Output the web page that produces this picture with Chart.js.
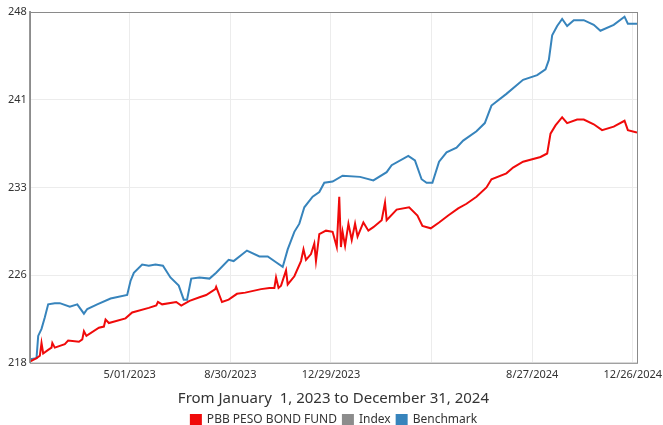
<!DOCTYPE html>
<html>
<head>
<meta charset="utf-8">
<title>PBB PESO BOND FUND</title>
<script src="https://cdn.jsdelivr.net/npm/chart.js@4.4.1/dist/chart.umd.min.js"></script>
<style>
    html, body { margin: 0; padding: 0; background: #fff; }
    #wrap { width: 663px; height: 425px; }
</style>
</head>
<body>
<div id="wrap"><canvas id="perf"></canvas></div>
<script>
//--- Data (x = days since January 1, 2023)
var fundName = 'PBB PESO BOND FUND';
var seriesNames = [fundName, 'Index', 'Benchmark'];

var fundDays = [0, 8, 12, 14, 16, 22, 26, 27, 30, 42, 46, 59, 63, 65, 68, 83, 89, 91, 95, 115,
    123, 143, 152, 154, 159, 176, 182, 192, 204, 212, 223, 224, 231, 239, 249, 259, 278, 288, 294, 296,
    299, 302, 308, 310, 318, 326, 329, 332, 338, 342, 344, 348, 356, 364, 369, 372, 374, 376, 379, 383,
    387, 391, 394, 401, 407, 413, 423, 427, 429, 441, 456, 466, 472, 482, 492, 503, 515, 525, 537, 549,
    555, 573, 581, 593, 614, 622, 626, 632, 640, 646, 658, 666, 678, 688, 702, 715, 719, 730];
var fundValues = [218.1, 218.4, 218.6, 219.7, 218.8, 219.1, 219.3, 219.7, 219.3, 219.6, 219.9, 219.8, 220.0, 220.7, 220.3, 221.0, 221.1, 221.7, 221.4, 221.8,
    222.3, 222.7, 222.9, 223.2, 223.0, 223.2, 222.9, 223.3, 223.6, 223.8, 224.3, 224.5, 223.2, 223.4, 223.9, 224.0, 224.3, 224.4, 224.4, 225.3,
    224.4, 224.6, 225.9, 224.7, 225.4, 226.7, 227.7, 226.8, 227.3, 228.2, 226.7, 229.0, 229.3, 229.2, 227.9, 232.2, 227.9, 229.2, 228.0, 229.9,
    228.5, 229.9, 228.8, 230.0, 229.3, 229.6, 230.2, 231.7, 230.2, 231.1, 231.3, 230.6, 229.7, 229.5, 230.0, 230.6, 231.2, 231.6, 232.2, 233.0,
    233.7, 234.2, 234.7, 235.2, 235.6, 235.9, 237.6, 238.3, 239.0, 238.5, 238.8, 238.8, 238.4, 237.9, 238.2, 238.7, 237.9, 237.7];

var benchDays = [0, 8, 10, 14, 18, 22, 30, 36, 48, 57, 65, 69, 81, 97, 117, 121, 125, 135, 143, 151,
    160, 169, 179, 185, 189, 194, 204, 216, 224, 239, 245, 261, 276, 286, 296, 304, 310, 318, 324, 330,
    340, 348, 354, 364, 376, 397, 413, 429, 435, 455, 463, 471, 477, 484, 492, 501, 513, 521, 537, 547,
    555, 573, 593, 610, 620, 624, 628, 634, 640, 646, 654, 666, 678, 686, 702, 715, 719, 730];
var benchValues = [218.3, 218.4, 220.3, 220.9, 221.9, 223.0, 223.1, 223.1, 222.8, 223.0, 222.2, 222.6, 223.0, 223.5, 223.8, 225.0, 225.7, 226.4, 226.3, 226.4,
    226.3, 225.3, 224.6, 223.4, 223.4, 225.2, 225.3, 225.2, 225.7, 226.8, 226.7, 227.6, 227.1, 227.1, 226.6, 226.2, 227.7, 229.2, 229.9, 231.3,
    232.2, 232.6, 233.4, 233.5, 234.0, 233.9, 233.6, 234.3, 234.9, 235.7, 235.3, 233.7, 233.4, 233.4, 235.2, 236.0, 236.4, 237.0, 237.8, 238.5,
    240.0, 241.0, 242.2, 242.6, 243.1, 243.9, 246.0, 246.8, 247.4, 246.8, 247.3, 247.3, 246.9, 246.4, 246.9, 247.6, 247.0, 247.0];

var tickDays = [120, 241, 362, 483, 604, 725];
var tickLabels = ['5/01/2023', '8/30/2023', '12/29/2023', '', '8/27/2024', '12/26/2024'];
var yMin = 218, yMax = 248, yStep = 7.5;
var periodText = 'From January  1, 2023 to December 31, 2024';

//--- Build points
function toPoints(days, values) {
    var pts = [];
    for (var i = 0; i < days.length; i++) {
        pts.push({ x: days[i], y: values[i] });
    }
    return pts;
}

// box round the plot area
var frame = {
    id: 'frame',
    afterDraw: function (chart) {
        var a = chart.chartArea, ctx = chart.ctx;
        ctx.save();
        ctx.strokeStyle = '#8a8a8a';
        ctx.lineWidth = 1;
        ctx.strokeRect(a.left + 0.5, a.top + 0.5, a.right - a.left, a.bottom - a.top);
        ctx.restore();
    }
};

Chart.defaults.font.family = "'Noto Sans', 'Open Sans', sans-serif";
Chart.defaults.color = '#333';

var ctx = document.getElementById('perf');
var myChart = new Chart(ctx, {
    type: 'line',
    data: {
        datasets: [{
            label: seriesNames[0],
            data: toPoints(fundDays, fundValues),
            borderColor: '#f00a0a',
            backgroundColor: '#f00a0a',
            borderWidth: 2,
            pointRadius: 0,
            tension: 0
        }, {
            label: seriesNames[1],
            data: [],
            borderColor: '#8c8c8c',
            backgroundColor: '#8c8c8c',
            borderWidth: 2,
            pointRadius: 0
        }, {
            label: seriesNames[2],
            data: toPoints(benchDays, benchValues),
            borderColor: '#3784bc',
            backgroundColor: '#3784bc',
            borderWidth: 2,
            pointRadius: 0,
            tension: 0
        }]
    },
    options: {
        responsive: true,
        maintainAspectRatio: false,
        animation: false,
        layout: { padding: { top: 12, left: 5, right: 0, bottom: -11 } },
        plugins: {
            tooltip: { enabled: false },
            legend: {
                position: 'bottom',
                labels: {
                    boxWidth: 10,
                    boxHeight: 10,
                    padding: 6,
                    font: { size: 12 }
                }
            }
        },
        scales: {
            x: {
                type: 'linear',
                min: 0,
                max: 730,
                afterBuildTicks: function (scale) {
                    scale.ticks = tickDays.map(function (d) { return { value: d }; });
                },
                afterFit: function (scale) {
                    scale.paddingRight = 26;
                },
                ticks: {
                    autoSkip: false,
                    maxRotation: 0,
                    padding: 5,
                    font: { size: 11 },
                    callback: function (value, index) { return tickLabels[index]; }
                },
                grid: { color: '#ececec', drawTicks: false },
                border: { display: false },
                title: {
                    display: true,
                    text: periodText,
                    font: { size: 15 },
                    padding: { top: 4, bottom: 0 }
                }
            },
            y: {
                min: yMin,
                max: yMax,
                ticks: {
                    stepSize: yStep,
                    padding: 3,
                    font: { size: 11 },
                    callback: function (value) { return Math.round(value); }
                },
                grid: { color: '#ececec', drawTicks: false },
                border: { display: true, color: '#9a9a9a', width: 2 }
            }
        }
    },
    plugins: [frame]
});
console.log('chart ready');
</script>
</body>
</html>
